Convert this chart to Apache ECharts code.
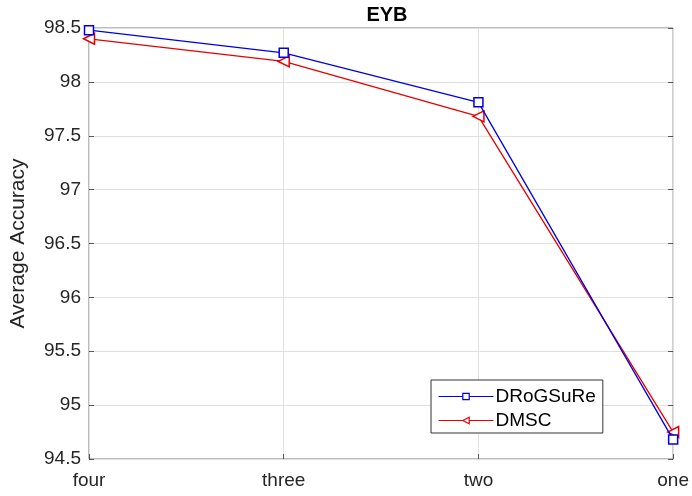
<!DOCTYPE html>
<html><head><meta charset="utf-8">
<script src="https://cdn.jsdelivr.net/npm/echarts@6/dist/echarts.min.js"></script>
<style>html,body{margin:0;padding:0;background:#fff}#c{width:692px;height:496px}</style>
</head><body><div id="c"></div>
<script>
const categories = ['four', 'three', 'two', 'one'];
const drogsure = [98.48, 98.27, 97.81, 94.68];
const dmsc = [98.40, 98.19, 97.68, 94.75];
const yTicks = [94.5, 95, 95.5, 96, 96.5, 97, 97.5, 98, 98.5];

const chart = echarts.init(document.getElementById('c'));
const font = 'Liberation Sans, Arial, sans-serif';
chart.setOption({
  animation: false,
  backgroundColor: '#fff',
  title: { text: 'EYB', left: 382, top: 0, textAlign: 'center',
    textStyle: { fontFamily: font, fontSize: 20, fontWeight: 'bold', color: '#000' } },
  grid: { left: 88, right: 15, top: 28, bottom: 37, show: true, borderColor: '#7a7a7a', borderWidth: 1 },
  legend: {
    left: 431, top: 380, orient: 'vertical',
    backgroundColor: '#fff', borderColor: '#333', borderWidth: 1,
    padding: [7, 7, 3, 7], itemGap: 5, itemWidth: 55, itemHeight: 8,
    itemStyle: { borderWidth: 1.2 },
    lineStyle: { width: 1 },
    textStyle: { fontFamily: font, fontSize: 19, color: '#000', padding: [0, 0, 0, -3] },
    data: ['DRoGSuRe', 'DMSC']
  },
  xAxis: {
    type: 'category', data: categories, boundaryGap: false,
    axisLine: { show: false },
    axisTick: { show: true, inside: true, length: 5, lineStyle: { color: '#555' } },
    axisLabel: { fontFamily: font, fontSize: 19, color: '#262626', margin: 12 },
    splitLine: { show: true, lineStyle: { color: '#e0e0e0', width: 1 } }
  },
  yAxis: [{
    type: 'value', min: 94.5, max: 98.5, interval: 0.5,
    name: 'Average Accuracy', nameLocation: 'middle', nameGap: 60,
    nameTextStyle: { fontFamily: font, fontSize: 21, color: '#262626' },
    axisLine: { show: false },
    axisTick: { show: true, inside: true, length: 5, lineStyle: { color: '#555' } },
    axisLabel: { fontFamily: font, fontSize: 19, color: '#262626', margin: 8,
      formatter: v => yTicks.includes(v) ? String(v) : '' },
    splitLine: { show: true, lineStyle: { color: '#e0e0e0', width: 1 } }
  }, {
    type: 'value', min: 94.5, max: 98.5, interval: 0.5, position: 'right',
    axisLine: { show: false }, axisLabel: { show: false }, splitLine: { show: false },
    axisTick: { show: true, inside: true, length: 5, lineStyle: { color: '#555' } }
  }],
  series: [{
    name: 'DRoGSuRe', type: 'line', data: drogsure,
    symbol: 'rect', symbolSize: 9,
    lineStyle: { color: '#0000e6', width: 1.3 },
    itemStyle: { color: '#fff', borderColor: '#0000e6', borderWidth: 1.5 },
    z: 3
  }, {
    name: 'DMSC', type: 'line', data: dmsc,
    symbol: 'triangle', symbolRotate: 90, symbolSize: 11,
    lineStyle: { color: '#e60000', width: 1.3 },
    itemStyle: { color: '#fff', borderColor: '#e60000', borderWidth: 1.5 },
    z: 2
  }]
});
</script></body></html>
